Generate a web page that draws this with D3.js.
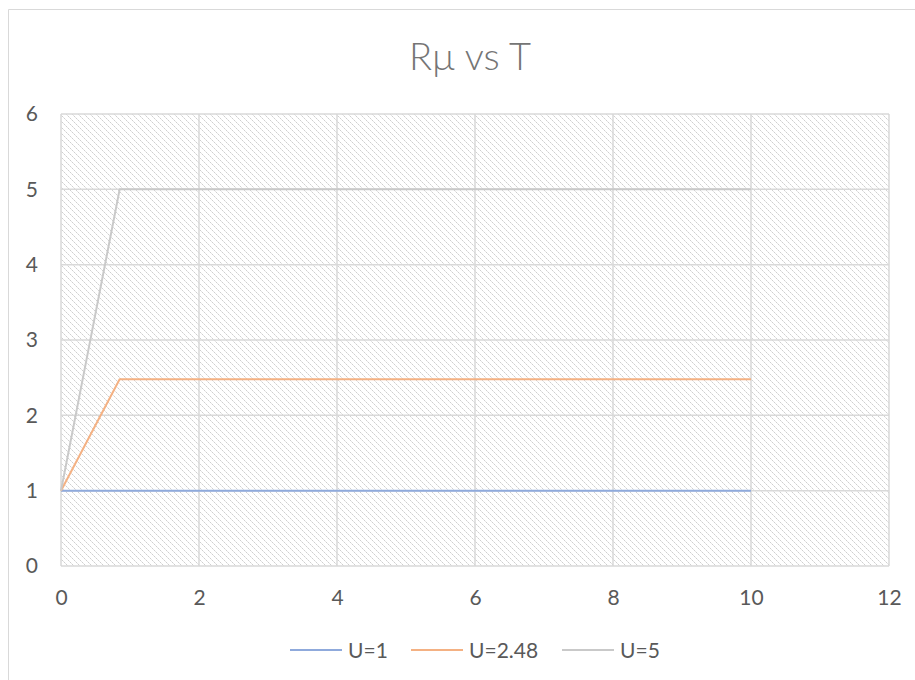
<!DOCTYPE html>
<html>
<head>
<meta charset="utf-8">
<script src="https://cdn.jsdelivr.net/npm/d3@7"></script>
<style>
  html, body { margin: 0; padding: 0; background: #fff; }
  svg { display: block; font-family: Lato, "Open Sans", sans-serif; }
</style>
</head>
<body>
<svg id="chart" width="915" height="680"></svg>
<script>
// Series data: time T and Rμ for each U value
const seriesNames = ["U=1", "U=2.48", "U=5"];
const seriesColors = ["#8faadc", "#f4b183", "#c9c9c9"];
const tValues = [0, 0.85, 10];
const rU1 = [1, 1, 1];
const rU248 = [1, 2.48, 2.48];
const rU5 = [1, 5, 5];
const xTicks = [0, 2, 4, 6, 8, 10, 12];
const yTicks = [0, 1, 2, 3, 4, 5, 6];
const titleText = "Rμ vs T";

const series = [rU1, rU248, rU5].map((vals, i) => ({
  name: seriesNames[i],
  color: seriesColors[i],
  points: tValues.map((t, j) => ({ t, r: vals[j] }))
}));

const svg = d3.select("#chart");
const plot = { left: 61, right: 889, top: 114, bottom: 566 };

const x = d3.scaleLinear().domain([0, 12]).range([plot.left, plot.right]);
const y = d3.scaleLinear().domain([0, 6]).range([plot.bottom, plot.top]);

// Outer chart frame (top and left edges)
svg.append("line").attr("x1", 8.5).attr("x2", 915).attr("y1", 9.5).attr("y2", 9.5)
  .attr("stroke", "#d9d9d9").attr("stroke-width", 1);
svg.append("line").attr("x1", 8.5).attr("x2", 8.5).attr("y1", 9.5).attr("y2", 680)
  .attr("stroke", "#d9d9d9").attr("stroke-width", 1);

// Hatched plot-area fill
const defs = svg.append("defs");
const pat = defs.append("pattern")
  .attr("id", "hatch").attr("patternUnits", "userSpaceOnUse")
  .attr("width", 6).attr("height", 6);
for (let k = 0; k < 6; k += 2) {
  pat.append("rect").attr("x", k).attr("y", k).attr("width", 1).attr("height", 1).attr("fill", "#cfcfcf");
  pat.append("rect").attr("x", k + 1).attr("y", k + 1).attr("width", 1).attr("height", 1).attr("fill", "#e4e4e4");
}

svg.append("rect")
  .attr("x", x(0)).attr("y", y(6))
  .attr("width", x(12) - x(0)).attr("height", y(0) - y(6))
  .attr("fill", "url(#hatch)");

// Gridlines
const grid = svg.append("g");
grid.selectAll(".gx").data(xTicks).join("line")
  .attr("x1", d => x(d)).attr("x2", d => x(d))
  .attr("y1", y(6)).attr("y2", y(0))
  .attr("stroke", "#d9d9d9").attr("stroke-width", 1.5);
grid.selectAll(".gy").data(yTicks).join("line")
  .attr("x1", x(0)).attr("x2", x(12))
  .attr("y1", d => y(d)).attr("y2", d => y(d))
  .attr("stroke", "#d9d9d9").attr("stroke-width", 1.5);

// Tick labels (no axis lines)
const xAxis = svg.append("g").attr("transform", `translate(0,${y(0)})`)
  .call(d3.axisBottom(x).tickValues(xTicks).tickFormat(d3.format("d")).tickSize(0).tickPadding(24));
const yAxis = svg.append("g").attr("transform", `translate(${x(0)},0)`)
  .call(d3.axisLeft(y).tickValues(yTicks).tickFormat(d3.format("d")).tickSize(0).tickPadding(23));
[xAxis, yAxis].forEach(g => {
  g.attr("font-size", 21).attr("font-family", "Lato, 'Open Sans', sans-serif");
  g.select(".domain").remove();
  g.selectAll("text").attr("fill", "#595959");
});

// Series lines
const line = d3.line().x(d => x(d.t)).y(d => y(d.r));
svg.append("g").selectAll("path").data(series).join("path")
  .attr("d", d => line(d.points))
  .attr("fill", "none")
  .attr("stroke", d => d.color)
  .attr("stroke-width", 2)
  .attr("stroke-linejoin", "round");

// Title
svg.append("text")
  .attr("x", 470).attr("y", 70)
  .attr("text-anchor", "middle")
  .attr("fill", "#757575").attr("font-size", 38).attr("font-weight", 300)
  .text(titleText);

// Legend
const legendX = [290, 411, 562];
const legend = svg.append("g").selectAll("g").data(series).join("g")
  .attr("transform", (d, i) => `translate(${legendX[i]},650)`);
legend.append("line").attr("x1", 0).attr("x2", 52).attr("y1", 0).attr("y2", 0)
  .attr("stroke", d => d.color).attr("stroke-width", 2);
legend.append("text").attr("x", 58).attr("y", 7.5)
  .attr("fill", "#595959").attr("font-size", 21).text(d => d.name);
</script>
</body>
</html>
